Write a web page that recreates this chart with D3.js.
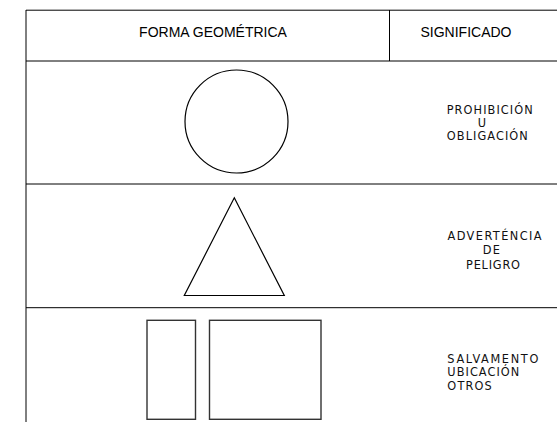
<!DOCTYPE html>
<html>
<head>
<meta charset="utf-8">
<script src="https://cdn.jsdelivr.net/npm/d3@7"></script>
<style>
  html, body { margin: 0; padding: 0; background: #fff; }
  svg { display: block; }
</style>
</head>
<body>
<svg id="chart" width="557" height="423"></svg>
<script>
// ---- data ----
const headers = ["FORMA GEOMÉTRICA", "SIGNIFICADO"];
const shapes = ["circle", "triangle", "rects"];
const meanings = [
  ["PROHIBICIÓN", "U", "OBLIGACIÓN"],
  ["ADVERTÉNCIA", "DE", "PELIGRO"],
  ["SALVAMENTO", "UBICACIÓN", "OTROS"]
];

// ---- layout ----
const W = 557, H = 423;
const svg = d3.select("#chart");
const tblLeft = 26, tblTop = 10, headerBottom = 61, colDiv = 389.5;
const rowH = 123.5;

// row index -> top y
const yRow = d3.scaleLinear().domain([0, 1]).range([headerBottom, headerBottom + rowH]);
// horizontal column scale for header centres
const xCol = d3.scaleOrdinal().domain(headers).range([213, 466]);

const lineColor = "#000";

// grid lines
svg.append("line").attr("x1", tblLeft).attr("x2", W).attr("y1", tblTop + 0.2).attr("y2", tblTop + 0.2)
  .attr("stroke", lineColor).attr("stroke-width", 1);
svg.append("line").attr("x1", tblLeft).attr("x2", tblLeft).attr("y1", tblTop).attr("y2", 422)
  .attr("stroke", lineColor).attr("stroke-width", 1);
svg.append("line").attr("x1", colDiv).attr("x2", colDiv).attr("y1", tblTop).attr("y2", headerBottom)
  .attr("stroke", lineColor).attr("stroke-width", 1);
[headerBottom, yRow(1) - 0.5, yRow(2) - 0.3].forEach(y => {
  svg.append("line").attr("x1", tblLeft).attr("x2", W).attr("y1", y).attr("y2", y)
    .attr("stroke", lineColor).attr("stroke-width", 1);
});

// header texts
svg.selectAll("text.hdr").data(headers).enter().append("text")
  .attr("class", "hdr")
  .attr("x", d => xCol(d)).attr("y", 37)
  .attr("text-anchor", "middle")
  .attr("font-family", "'Liberation Sans', Arial, sans-serif")
  .attr("font-size", 14)
  .attr("fill", "#000")
  .text(d => d);

// shapes
const cx = 236;
shapes.forEach((s, i) => {
  const y0 = yRow(i);
  if (s === "circle") {
    svg.append("circle").attr("cx", cx + 0.5).attr("cy", y0 + 60.5).attr("r", 51.5)
      .attr("fill", "none").attr("stroke", "#000").attr("stroke-width", 1.2);
  } else if (s === "triangle") {
    const pts = [[234.3, y0 + 13.3], [284.3, y0 + 111], [184.3, y0 + 111]];
    svg.append("path").attr("d", d3.line()(pts) + "Z")
      .attr("fill", "none").attr("stroke", "#000").attr("stroke-width", 1.2)
      .attr("stroke-linejoin", "miter");
  } else if (s === "rects") {
    svg.append("rect").attr("x", 147).attr("y", y0 + 12.3).attr("width", 48.5).attr("height", 99)
      .attr("fill", "none").attr("stroke", "#333").attr("stroke-width", 1.4);
    svg.append("rect").attr("x", 209.5).attr("y", y0 + 12.3).attr("width", 111.5).attr("height", 99)
      .attr("fill", "none").attr("stroke", "#333").attr("stroke-width", 1.4);
  }
});

// meaning texts
const textLayout = [
  { anchor: "middle", xs: [489.7, 482, 487.3], dy: [53, 65.5, 79], widths: [86, null, 81] },
  { anchor: "middle", xs: [494.5, 491.3, 493], dy: [55.5, 69, 84], widths: [94, 17, 54] },
  { anchor: "start",  xs: [447.3, 447.3, 447.3], dy: [54.8, 67.8, 82], widths: [91, 72, 44.5] }
];
meanings.forEach((lines, i) => {
  const L = textLayout[i];
  const y0 = yRow(i);
  lines.forEach((t, j) => {
    const tx = svg.append("text")
      .attr("x", L.xs[j]).attr("y", y0 + L.dy[j])
      .attr("text-anchor", L.anchor)
      .attr("font-family", "'DejaVu Sans Condensed', 'DejaVu Sans', sans-serif")
      .attr("font-stretch", "condensed")
      .attr("font-size", 12.6)
      .attr("fill", "#111")
      .text(t);
    if (L.widths[j]) tx.attr("textLength", L.widths[j]).attr("lengthAdjust", "spacing");
  });
});
</script>
</body>
</html>
